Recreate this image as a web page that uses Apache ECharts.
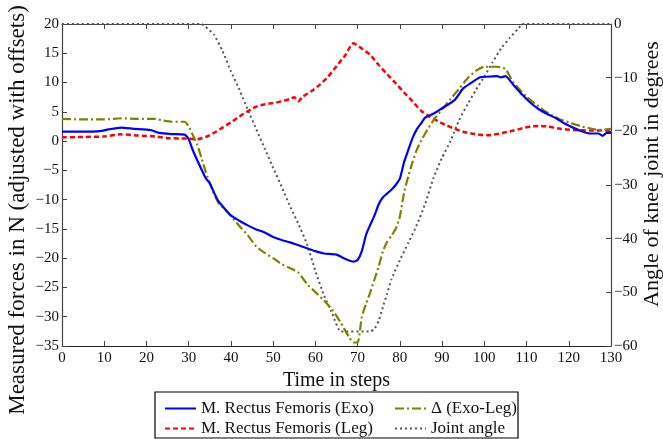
<!DOCTYPE html>
<html>
<head>
<meta charset="utf-8">
<script src="https://cdn.jsdelivr.net/npm/echarts@6/dist/echarts.min.js"></script>
<style>
  html, body { margin: 0; padding: 0; background: #fff; }
  #chart { width: 663px; height: 439px; }
</style>
</head>
<body>
<div id="chart"></div>
<script>
// Time axis (steps)
const stepTicks = [0, 10, 20, 30, 40, 50, 60, 70, 80, 90, 100, 110, 120, 130];

// M. Rectus Femoris measured on the exoskeleton [step, N]
const exoForce = [
  [0,1.6],[5,1.6],[9,1.7],[11,2.0],[14,2.3],[17,2.1],[21,1.9],[23,1.4],[26,1.2],[29,1.1],
  [30,0.3],[31,-1.6],[33,-4.8],[34,-6.3],[35,-7.2],[36,-8.8],[37,-10.2],[38,-11.1],[40,-12.7],
  [42,-13.6],[44,-14.4],[46,-15.1],[48,-15.6],[50,-16.4],[52,-16.9],[54,-17.3],[56,-17.8],
  [58,-18.3],[60,-18.8],[62,-19.2],[65,-19.4],[67,-20.1],[69,-20.6],[70,-20.3],[71,-18.8],
  [72,-16.0],[73,-14.3],[74,-12.7],[75,-10.8],[76,-9.6],[78,-8.3],[79,-7.5],[80,-6.4],
  [81,-3.6],[82,-1.5],[83,0.5],[84,2.0],[85,3.0],[86,4.0],[88,4.7],[90,5.6],[92,6.5],
  [93,7.0],[94,8.0],[95,9.0],[97,10.0],[99,10.9],[101,11.0],[103,11.1],[104,10.9],[105,11.1],
  [107,9.5],[109,7.9],[111,6.5],[113,5.4],[115,4.6],[117,3.9],[119,3.0],[121,2.3],[123,1.7],
  [125,1.3],[127,1.3],[128,0.9],[129,1.4],[130,1.4]
];

// M. Rectus Femoris measured on the leg [step, N]
const legForce = [
  [0,0.65],[5,0.7],[10,0.8],[14,1.15],[18,0.95],[22,0.8],[25,0.5],[28,0.45],[30,0.4],[32,0.3],
  [34,0.7],[36,1.4],[38,2.3],[40,3.2],[42,4.2],[44,5.1],[46,5.9],[48,6.3],[50,6.5],[52,6.8],
  [54,7.2],[55,7.5],[56,6.8],[57,7.6],[59,8.5],[61,9.6],[63,11.0],[65,12.8],[67,14.6],[69,16.7],
  [71,15.8],[73,14.7],[75,13.0],[77,11.4],[79,9.9],[81,8.3],[83,6.8],[85,5.2],[87,4.2],[89,3.4],
  [91,2.7],[93,2.1],[95,1.6],[97,1.3],[99,1.1],[101,1.0],[103,1.2],[105,1.5],[107,1.8],[109,2.2],
  [111,2.5],[113,2.6],[115,2.5],[118,2.1],[121,1.9],[125,1.8],[130,1.8]
];

// Difference Exo - Leg [step, N]
const deltaForce = [
  [0,3.8],[5,3.7],[10,3.7],[14,3.9],[18,3.8],[22,3.8],[24,3.5],[26,3.3],[29,3.3],[30,2.5],
  [31,1.0],[32,-0.6],[33,-2.8],[34,-5.2],[35,-7.2],[36,-9.0],[37,-10.5],[39,-12.0],[40,-12.8],
  [42,-14.5],[44,-16.1],[46,-18.0],[48,-19.1],[50,-20.0],[52,-21.0],[54,-21.7],[56,-22.5],
  [58,-24.4],[60,-25.8],[62,-27.2],[64,-28.8],[66,-31.0],[68,-33.5],[69,-34.4],[70,-34.4],
  [71,-30.0],[72,-27.8],[73,-25.8],[74,-23.6],[75,-21.4],[76,-18.8],[77,-17.2],[78,-16.2],
  [79,-15.0],[80,-12.9],[81,-8.8],[82,-6.0],[83,-3.6],[84,-1.5],[85,0.0],[86,1.3],[88,3.6],
  [90,5.4],[92,7.2],[94,8.9],[96,10.7],[98,12.0],[100,12.7],[103,12.7],[105,12.3],[107,9.9],
  [110,7.6],[112,6.4],[114,5.3],[116,4.4],[118,3.7],[120,3.2],[123,2.5],[125,2.2],[127,1.9],[130,2.1]
];

// Knee joint angle [step, degrees]
const jointAngle = [
  [0,0],[33,0],[34,-0.5],[36,-2.0],[38,-5.0],[40,-8.8],[42,-12.2],[44,-16.0],[46,-19.6],
  [48,-23.2],[50,-26.8],[52,-30.3],[54,-34.0],[56,-37.3],[58,-41.0],[60,-46.0],[62,-50.5],
  [64,-54.0],[66,-57.3],[73,-57.3],[74,-56.8],[75,-55.3],[76,-52.7],[77,-50.2],[78,-47.6],
  [80,-44.0],[82,-40.8],[84,-37.5],[86,-33.5],[88,-28.6],[90,-24.9],[92,-21.8],[94,-18.0],
  [96,-15.0],[98,-12.3],[100,-9.8],[102,-7.1],[104,-4.5],[106,-2.6],[108,-0.9],[109,0],[130,0]
];

const forceTicks = [-35, -30, -25, -20, -15, -10, -5, 0, 5, 10, 15, 20];
const angleTicks = [-60, -50, -40, -30, -20, -10, 0];

const FONT = '"Liberation Serif", "Times New Roman", serif';
const AXIS_COLOR = '#444';
const minus = v => String(v).replace('-', '\u2212');

const seriesNames = {
  exo: 'M. Rectus Femoris (Exo)',
  leg: 'M. Rectus Femoris (Leg)',
  delta: '\u0394 (Exo-Leg)',
  angle: 'Joint angle'
};

const chart = echarts.init(document.getElementById('chart'), null, { renderer: 'canvas' });

const baseAxis = {
  axisLine: { show: true, lineStyle: { color: AXIS_COLOR, width: 1.2 } },
  axisTick: { show: true, inside: true, length: 5, lineStyle: { color: AXIS_COLOR, width: 1 } },
  splitLine: { show: false },
  axisLabel: { fontFamily: FONT, fontSize: 15, color: '#111', formatter: minus }
};

const legendText = { fontFamily: FONT, fontSize: 17, color: '#111' };
// Legend keys show only the line stroke, no marker
const legendCommon = {
  orient: 'vertical', top: 395, height: 80, itemWidth: 31, itemHeight: 14, itemGap: 3,
  textStyle: legendText, itemStyle: { color: 'rgba(0,0,0,0)', borderWidth: 0, opacity: 0 }, z: 10
};

chart.setOption({
  animation: false,
  backgroundColor: '#fff',
  grid: { left: 62, right: 52, top: 24, bottom: 93, containLabel: false, outerBoundsMode: 'none' },
  graphic: [{
    type: 'rect',
    shape: { x: 155, y: 392, width: 363, height: 46 },
    style: { fill: '#fff', stroke: '#000', lineWidth: 1.2 },
    z: 0
  }],
  legend: [
    Object.assign({}, legendCommon, { left: 159, data: [seriesNames.exo, seriesNames.leg] }),
    Object.assign({}, legendCommon, { left: 389, data: [seriesNames.delta, seriesNames.angle] })
  ],
  xAxis: [
    Object.assign({}, baseAxis, {
      type: 'value', position: 'bottom', min: stepTicks[0], max: stepTicks[stepTicks.length - 1], interval: 10,
      axisLine: { show: true, onZero: false, lineStyle: { color: '#222', width: 1.2 } },
      axisLabel: Object.assign({}, baseAxis.axisLabel, { margin: 5 }),
      name: 'Time in steps', nameLocation: 'middle', nameGap: 24,
      nameTextStyle: { fontFamily: FONT, fontSize: 20, color: '#111' }
    }),
    Object.assign({}, baseAxis, {
      type: 'value', position: 'top', min: 0, max: 130, interval: 10,
      axisLine: { show: true, onZero: false, lineStyle: { color: AXIS_COLOR, width: 1.2 } },
      axisLabel: { show: false }
    })
  ],
  yAxis: [
    Object.assign({}, baseAxis, {
      type: 'value', position: 'left', min: forceTicks[0], max: forceTicks[forceTicks.length - 1], interval: 5,
      axisLine: { show: true, onZero: false, lineStyle: { color: AXIS_COLOR, width: 1.2 } },
      axisLabel: Object.assign({}, baseAxis.axisLabel, { margin: 3 }),
      name: 'Measured forces in N (adjusted with offsets)', nameLocation: 'middle', nameGap: 33, nameMoveOverlap: false,
      nameTextStyle: { fontFamily: FONT, fontSize: 23, color: '#111', padding: [0, 50, 0, 0] }
    }),
    Object.assign({}, baseAxis, {
      type: 'value', position: 'right', min: angleTicks[0], max: angleTicks[angleTicks.length - 1], interval: 10,
      axisLine: { show: true, onZero: false, lineStyle: { color: AXIS_COLOR, width: 1.2 } },
      axisLabel: Object.assign({}, baseAxis.axisLabel, { margin: 3 }),
      name: 'Angle of knee joint in degrees', nameLocation: 'middle', nameGap: 30, nameMoveOverlap: false,
      nameTextStyle: { fontFamily: FONT, fontSize: 22, color: '#111', padding: [0, 0, 0, 22] }
    })
  ],
  series: [
    {
      name: seriesNames.exo, type: 'line', xAxisIndex: 0, yAxisIndex: 0, data: exoForce,
      showSymbol: false, symbol: 'none', smooth: 0.2,
      lineStyle: { color: '#0000ff', width: 2.2, type: 'solid' }, itemStyle: { color: '#0000ff' }, z: 4
    },
    {
      name: seriesNames.leg, type: 'line', xAxisIndex: 0, yAxisIndex: 0, data: legForce,
      showSymbol: false, symbol: 'none', smooth: 0.2,
      lineStyle: { color: '#ff0000', width: 2.5, type: [5, 3] }, itemStyle: { color: '#ff0000' }, z: 3
    },
    {
      name: seriesNames.delta, type: 'line', xAxisIndex: 0, yAxisIndex: 0, data: deltaForce,
      showSymbol: false, symbol: 'none', smooth: 0.2,
      lineStyle: { color: '#808000', width: 2.2, type: [9, 3, 2, 3] }, itemStyle: { color: '#808000' }, z: 3
    },
    {
      name: seriesNames.angle, type: 'line', xAxisIndex: 0, yAxisIndex: 1, data: jointAngle,
      showSymbol: false, symbol: 'none', smooth: 0.15,
      lineStyle: { color: '#555', width: 2, type: [2, 3] }, itemStyle: { color: '#555' }, z: 2
    }
  ]
});
</script>
</body>
</html>
